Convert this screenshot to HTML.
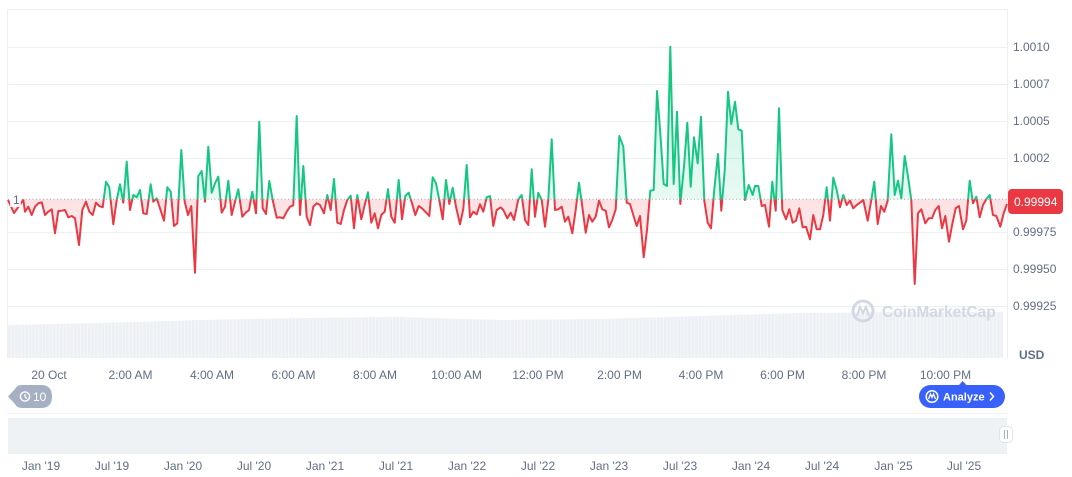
<!DOCTYPE html>
<html><head><meta charset="utf-8"><style>
html,body{margin:0;padding:0;background:#fff;}
svg{display:block;font-family:"Liberation Sans",Arial,sans-serif;}
</style></head><body>
<svg width="1072" height="477" viewBox="0 0 1072 477" xmlns="http://www.w3.org/2000/svg">
<defs>
<clipPath id="ca"><rect x="0" y="0" width="1008" height="199.3"/></clipPath>
<clipPath id="cb"><rect x="0" y="199.3" width="1008" height="170"/></clipPath>
<linearGradient id="gg" gradientUnits="userSpaceOnUse" x1="0" y1="47" x2="0" y2="199">
<stop offset="0" stop-color="#16c784" stop-opacity="0.22"/><stop offset="1" stop-color="#16c784" stop-opacity="0.1"/></linearGradient>
<linearGradient id="rg" gradientUnits="userSpaceOnUse" x1="0" y1="199" x2="0" y2="285">
<stop offset="0" stop-color="#ea3943" stop-opacity="0.15"/><stop offset="1" stop-color="#ea3943" stop-opacity="0.04"/></linearGradient>
<pattern id="bars" x="8" y="0" width="3.47" height="10" patternUnits="userSpaceOnUse"><rect x="2.7" y="0" width="0.77" height="10" fill="#fff" opacity="0.55"/></pattern>
</defs>
<g stroke="#eceff3" stroke-width="1">
<line x1="7" y1="9.5" x2="1008" y2="9.5"/>
<line x1="7.5" y1="9" x2="7.5" y2="358"/>
<line x1="1007.5" y1="9" x2="1007.5" y2="358"/>
<line x1="8" y1="47.5" x2="1007" y2="47.5"/>
<line x1="8" y1="84.5" x2="1007" y2="84.5"/>
<line x1="8" y1="121.5" x2="1007" y2="121.5"/>
<line x1="8" y1="158.5" x2="1007" y2="158.5"/>
<line x1="8" y1="232.5" x2="1007" y2="232.5"/>
<line x1="8" y1="269.5" x2="1007" y2="269.5"/>
<line x1="8" y1="306.5" x2="1007" y2="306.5"/>
</g>
<polygon points="8,325 100,323 200,320 300,318 400,317 500,320 600,319 700,316 800,313 900,312 1003,312 1003,358 8,358" fill="#edf0f4"/>
<polygon points="8,325 100,323 200,320 300,318 400,317 500,320 600,319 700,316 800,313 900,312 1003,312 1003,358 8,358" fill="url(#bars)"/>
<g>
<circle cx="863" cy="311" r="10" fill="none" stroke="#d3d9e2" stroke-width="3"/>
<path d="M857,316 L860,307 L863,313 L866,307 L869,316" fill="none" stroke="#d3d9e2" stroke-width="2.2"/>
<text x="882" y="317" font-size="15.5" font-weight="bold" fill="#d3d9e2">CoinMarketCap</text>
</g>
<g clip-path="url(#ca)"><polygon fill="url(#gg)" points="8,199.3 8,200 14,213 23.3,200 25,211.7 28.3,206.7 31.7,215 35,206.7 38.3,203.3 41.7,202.3 45,215 48.3,211.7 51.7,209.3 55,233.3 58.3,211 61.7,210.7 65,210 68.3,217.3 71.7,216 75,218.3 79,245 82.3,210 86,201.7 89.3,211.7 92.7,215 96,202.7 99.3,206 102.7,207.3 106,181.7 109.3,187.3 113.3,224.3 116.7,200 120,184.3 123.3,202.7 126.7,161.7 130,210 133.3,195 136.7,197.3 140,190 143.3,213.3 146.7,214 150.7,184.3 153.3,201.7 156.7,198.3 160,208.3 164,220.7 167.3,187.3 170.7,191.7 174,226 177.3,223.3 181.3,150 184.7,201.7 188,215 191.3,206 195,272.7 198.3,176 201.7,171 205,201.7 208.3,146.7 211.7,192.7 215,183.3 218.3,176.7 221.7,212.7 225,206.7 228.3,180.7 231.7,215 235,201.7 238.3,189.3 242.3,216.7 245.7,212.7 249,210 252.3,191.7 256,213.3 259.3,121.7 262.7,208.3 266,214 269.3,181 272.7,200 276.7,217.7 280,217.3 283.3,218.3 286.7,211.7 290,206.7 293.3,205.3 296.7,116 300,215 303.3,166 306.7,216.7 310,225 313.3,206.7 316.7,203.3 320,205 324,213.3 327.3,195 330.7,210 334,179 337.3,222.7 340.7,224 344,210 347.3,200 350.7,195.7 354,228.3 357.3,195 361.3,219.3 364.7,205 368,192.3 371.3,222.7 374.7,213.3 378,228.3 381.3,215 384.7,211.7 388,189.3 391.3,216.7 394.7,222.7 398.7,180 402,219.3 405.3,196 408.7,192.7 412,203.3 415.3,215 418.7,206 422,208.3 425.3,211.7 429.3,216 432.7,177.3 436,183.3 439.3,200 442.7,219.3 446,180 449.3,204 452.7,187.7 456,206.7 460,224.3 463.3,209 466.7,165 470,217.3 473.3,211.7 476.7,214.3 480,204.3 483.3,211.7 486.7,197.3 490,196 493.3,226 496.7,210 500.7,207.3 503.3,210 507.3,218.3 510.7,212.7 514,220 518.3,199.3 521.7,195 525,220 528.3,225 531.7,169.3 535,216.7 538.3,192.7 541.7,200 545,226.7 548.3,200 551.7,139.3 555,210 558.3,209.3 561.7,206.7 565,221.7 568.3,216.7 572.3,233.3 575.7,210 579,182.7 582.3,206.7 585.7,232.7 589,215 592.3,221.7 595.7,216.7 599,200.7 602.3,209.3 605.7,210.7 609,227.3 612.3,220 615.7,209.3 619.3,136 623.3,146.7 626.7,202.7 630,204 633.3,215 636.7,226 640,216 643.7,257.3 647,230 650.3,190.7 653.7,190 657,91 660.3,133.3 663.7,184 667,186 670.3,46.7 673.7,184 677,111.7 680.3,204 684,166.7 687.3,122.7 690.7,186.7 694,137.3 697.7,163.3 701,116.7 704.3,200.7 707.7,222.7 711,228.3 714.3,189.3 718,154 721.3,210.7 724.7,170.7 728,91.7 731.3,124 735,101.7 738.3,129.3 741.7,130.7 745,200 748.7,185 752.7,195 755,186 758.3,186 761.7,206 765,205 769,226.7 772.3,181.7 775.7,210.7 779,108.3 782.3,210 786,219.3 789.3,209.3 792.7,222.7 796,220.7 799.3,208.3 802.7,227.3 806,226.7 810,239.3 813.3,215 816.7,229.3 820,229.3 823.3,215 826.7,187.3 830,220.7 833.3,177.7 836.7,190 840,207.3 843.3,195 846.7,205 850,200.7 853.3,208.3 856.7,205 860,202.7 863.3,200 867.7,220.7 871,201.7 874.3,181.7 877.7,224 881,206 884.3,211.7 887.7,200.7 891.3,134.3 894.7,195 898,180.7 901.3,198.3 904.7,156 908,176.7 911.3,200 914.7,284 918,213.3 921.3,209.3 925.3,223.3 928.7,218.3 932,218.3 935.3,210 938.7,206 942,228.3 945.3,216 949,241.7 952.3,224 955.7,208.3 959,206 963,229.3 966.3,220.7 969.7,180.7 973,203.3 976.3,196.7 979.7,217.3 983,205 986.3,199.3 989.7,195 993,215 996.3,216 1000.3,226.7 1003.7,213.3 1007,204 1007,199.3"/></g>
<g clip-path="url(#cb)"><polygon fill="url(#rg)" points="8,199.3 8,200 14,213 23.3,200 25,211.7 28.3,206.7 31.7,215 35,206.7 38.3,203.3 41.7,202.3 45,215 48.3,211.7 51.7,209.3 55,233.3 58.3,211 61.7,210.7 65,210 68.3,217.3 71.7,216 75,218.3 79,245 82.3,210 86,201.7 89.3,211.7 92.7,215 96,202.7 99.3,206 102.7,207.3 106,181.7 109.3,187.3 113.3,224.3 116.7,200 120,184.3 123.3,202.7 126.7,161.7 130,210 133.3,195 136.7,197.3 140,190 143.3,213.3 146.7,214 150.7,184.3 153.3,201.7 156.7,198.3 160,208.3 164,220.7 167.3,187.3 170.7,191.7 174,226 177.3,223.3 181.3,150 184.7,201.7 188,215 191.3,206 195,272.7 198.3,176 201.7,171 205,201.7 208.3,146.7 211.7,192.7 215,183.3 218.3,176.7 221.7,212.7 225,206.7 228.3,180.7 231.7,215 235,201.7 238.3,189.3 242.3,216.7 245.7,212.7 249,210 252.3,191.7 256,213.3 259.3,121.7 262.7,208.3 266,214 269.3,181 272.7,200 276.7,217.7 280,217.3 283.3,218.3 286.7,211.7 290,206.7 293.3,205.3 296.7,116 300,215 303.3,166 306.7,216.7 310,225 313.3,206.7 316.7,203.3 320,205 324,213.3 327.3,195 330.7,210 334,179 337.3,222.7 340.7,224 344,210 347.3,200 350.7,195.7 354,228.3 357.3,195 361.3,219.3 364.7,205 368,192.3 371.3,222.7 374.7,213.3 378,228.3 381.3,215 384.7,211.7 388,189.3 391.3,216.7 394.7,222.7 398.7,180 402,219.3 405.3,196 408.7,192.7 412,203.3 415.3,215 418.7,206 422,208.3 425.3,211.7 429.3,216 432.7,177.3 436,183.3 439.3,200 442.7,219.3 446,180 449.3,204 452.7,187.7 456,206.7 460,224.3 463.3,209 466.7,165 470,217.3 473.3,211.7 476.7,214.3 480,204.3 483.3,211.7 486.7,197.3 490,196 493.3,226 496.7,210 500.7,207.3 503.3,210 507.3,218.3 510.7,212.7 514,220 518.3,199.3 521.7,195 525,220 528.3,225 531.7,169.3 535,216.7 538.3,192.7 541.7,200 545,226.7 548.3,200 551.7,139.3 555,210 558.3,209.3 561.7,206.7 565,221.7 568.3,216.7 572.3,233.3 575.7,210 579,182.7 582.3,206.7 585.7,232.7 589,215 592.3,221.7 595.7,216.7 599,200.7 602.3,209.3 605.7,210.7 609,227.3 612.3,220 615.7,209.3 619.3,136 623.3,146.7 626.7,202.7 630,204 633.3,215 636.7,226 640,216 643.7,257.3 647,230 650.3,190.7 653.7,190 657,91 660.3,133.3 663.7,184 667,186 670.3,46.7 673.7,184 677,111.7 680.3,204 684,166.7 687.3,122.7 690.7,186.7 694,137.3 697.7,163.3 701,116.7 704.3,200.7 707.7,222.7 711,228.3 714.3,189.3 718,154 721.3,210.7 724.7,170.7 728,91.7 731.3,124 735,101.7 738.3,129.3 741.7,130.7 745,200 748.7,185 752.7,195 755,186 758.3,186 761.7,206 765,205 769,226.7 772.3,181.7 775.7,210.7 779,108.3 782.3,210 786,219.3 789.3,209.3 792.7,222.7 796,220.7 799.3,208.3 802.7,227.3 806,226.7 810,239.3 813.3,215 816.7,229.3 820,229.3 823.3,215 826.7,187.3 830,220.7 833.3,177.7 836.7,190 840,207.3 843.3,195 846.7,205 850,200.7 853.3,208.3 856.7,205 860,202.7 863.3,200 867.7,220.7 871,201.7 874.3,181.7 877.7,224 881,206 884.3,211.7 887.7,200.7 891.3,134.3 894.7,195 898,180.7 901.3,198.3 904.7,156 908,176.7 911.3,200 914.7,284 918,213.3 921.3,209.3 925.3,223.3 928.7,218.3 932,218.3 935.3,210 938.7,206 942,228.3 945.3,216 949,241.7 952.3,224 955.7,208.3 959,206 963,229.3 966.3,220.7 969.7,180.7 973,203.3 976.3,196.7 979.7,217.3 983,205 986.3,199.3 989.7,195 993,215 996.3,216 1000.3,226.7 1003.7,213.3 1007,204 1007,199.3"/></g>
<line x1="8" y1="199.3" x2="1007" y2="199.3" stroke="#a0a8b5" stroke-width="1" stroke-dasharray="1 2.5"/>
<g clip-path="url(#ca)"><polyline fill="none" stroke="#16c784" stroke-width="2" stroke-linejoin="round" points="8,200 14,213 23.3,200 25,211.7 28.3,206.7 31.7,215 35,206.7 38.3,203.3 41.7,202.3 45,215 48.3,211.7 51.7,209.3 55,233.3 58.3,211 61.7,210.7 65,210 68.3,217.3 71.7,216 75,218.3 79,245 82.3,210 86,201.7 89.3,211.7 92.7,215 96,202.7 99.3,206 102.7,207.3 106,181.7 109.3,187.3 113.3,224.3 116.7,200 120,184.3 123.3,202.7 126.7,161.7 130,210 133.3,195 136.7,197.3 140,190 143.3,213.3 146.7,214 150.7,184.3 153.3,201.7 156.7,198.3 160,208.3 164,220.7 167.3,187.3 170.7,191.7 174,226 177.3,223.3 181.3,150 184.7,201.7 188,215 191.3,206 195,272.7 198.3,176 201.7,171 205,201.7 208.3,146.7 211.7,192.7 215,183.3 218.3,176.7 221.7,212.7 225,206.7 228.3,180.7 231.7,215 235,201.7 238.3,189.3 242.3,216.7 245.7,212.7 249,210 252.3,191.7 256,213.3 259.3,121.7 262.7,208.3 266,214 269.3,181 272.7,200 276.7,217.7 280,217.3 283.3,218.3 286.7,211.7 290,206.7 293.3,205.3 296.7,116 300,215 303.3,166 306.7,216.7 310,225 313.3,206.7 316.7,203.3 320,205 324,213.3 327.3,195 330.7,210 334,179 337.3,222.7 340.7,224 344,210 347.3,200 350.7,195.7 354,228.3 357.3,195 361.3,219.3 364.7,205 368,192.3 371.3,222.7 374.7,213.3 378,228.3 381.3,215 384.7,211.7 388,189.3 391.3,216.7 394.7,222.7 398.7,180 402,219.3 405.3,196 408.7,192.7 412,203.3 415.3,215 418.7,206 422,208.3 425.3,211.7 429.3,216 432.7,177.3 436,183.3 439.3,200 442.7,219.3 446,180 449.3,204 452.7,187.7 456,206.7 460,224.3 463.3,209 466.7,165 470,217.3 473.3,211.7 476.7,214.3 480,204.3 483.3,211.7 486.7,197.3 490,196 493.3,226 496.7,210 500.7,207.3 503.3,210 507.3,218.3 510.7,212.7 514,220 518.3,199.3 521.7,195 525,220 528.3,225 531.7,169.3 535,216.7 538.3,192.7 541.7,200 545,226.7 548.3,200 551.7,139.3 555,210 558.3,209.3 561.7,206.7 565,221.7 568.3,216.7 572.3,233.3 575.7,210 579,182.7 582.3,206.7 585.7,232.7 589,215 592.3,221.7 595.7,216.7 599,200.7 602.3,209.3 605.7,210.7 609,227.3 612.3,220 615.7,209.3 619.3,136 623.3,146.7 626.7,202.7 630,204 633.3,215 636.7,226 640,216 643.7,257.3 647,230 650.3,190.7 653.7,190 657,91 660.3,133.3 663.7,184 667,186 670.3,46.7 673.7,184 677,111.7 680.3,204 684,166.7 687.3,122.7 690.7,186.7 694,137.3 697.7,163.3 701,116.7 704.3,200.7 707.7,222.7 711,228.3 714.3,189.3 718,154 721.3,210.7 724.7,170.7 728,91.7 731.3,124 735,101.7 738.3,129.3 741.7,130.7 745,200 748.7,185 752.7,195 755,186 758.3,186 761.7,206 765,205 769,226.7 772.3,181.7 775.7,210.7 779,108.3 782.3,210 786,219.3 789.3,209.3 792.7,222.7 796,220.7 799.3,208.3 802.7,227.3 806,226.7 810,239.3 813.3,215 816.7,229.3 820,229.3 823.3,215 826.7,187.3 830,220.7 833.3,177.7 836.7,190 840,207.3 843.3,195 846.7,205 850,200.7 853.3,208.3 856.7,205 860,202.7 863.3,200 867.7,220.7 871,201.7 874.3,181.7 877.7,224 881,206 884.3,211.7 887.7,200.7 891.3,134.3 894.7,195 898,180.7 901.3,198.3 904.7,156 908,176.7 911.3,200 914.7,284 918,213.3 921.3,209.3 925.3,223.3 928.7,218.3 932,218.3 935.3,210 938.7,206 942,228.3 945.3,216 949,241.7 952.3,224 955.7,208.3 959,206 963,229.3 966.3,220.7 969.7,180.7 973,203.3 976.3,196.7 979.7,217.3 983,205 986.3,199.3 989.7,195 993,215 996.3,216 1000.3,226.7 1003.7,213.3 1007,204"/></g>
<g clip-path="url(#cb)"><polyline fill="none" stroke="#ea3943" stroke-width="2" stroke-linejoin="round" points="8,200 14,213 23.3,200 25,211.7 28.3,206.7 31.7,215 35,206.7 38.3,203.3 41.7,202.3 45,215 48.3,211.7 51.7,209.3 55,233.3 58.3,211 61.7,210.7 65,210 68.3,217.3 71.7,216 75,218.3 79,245 82.3,210 86,201.7 89.3,211.7 92.7,215 96,202.7 99.3,206 102.7,207.3 106,181.7 109.3,187.3 113.3,224.3 116.7,200 120,184.3 123.3,202.7 126.7,161.7 130,210 133.3,195 136.7,197.3 140,190 143.3,213.3 146.7,214 150.7,184.3 153.3,201.7 156.7,198.3 160,208.3 164,220.7 167.3,187.3 170.7,191.7 174,226 177.3,223.3 181.3,150 184.7,201.7 188,215 191.3,206 195,272.7 198.3,176 201.7,171 205,201.7 208.3,146.7 211.7,192.7 215,183.3 218.3,176.7 221.7,212.7 225,206.7 228.3,180.7 231.7,215 235,201.7 238.3,189.3 242.3,216.7 245.7,212.7 249,210 252.3,191.7 256,213.3 259.3,121.7 262.7,208.3 266,214 269.3,181 272.7,200 276.7,217.7 280,217.3 283.3,218.3 286.7,211.7 290,206.7 293.3,205.3 296.7,116 300,215 303.3,166 306.7,216.7 310,225 313.3,206.7 316.7,203.3 320,205 324,213.3 327.3,195 330.7,210 334,179 337.3,222.7 340.7,224 344,210 347.3,200 350.7,195.7 354,228.3 357.3,195 361.3,219.3 364.7,205 368,192.3 371.3,222.7 374.7,213.3 378,228.3 381.3,215 384.7,211.7 388,189.3 391.3,216.7 394.7,222.7 398.7,180 402,219.3 405.3,196 408.7,192.7 412,203.3 415.3,215 418.7,206 422,208.3 425.3,211.7 429.3,216 432.7,177.3 436,183.3 439.3,200 442.7,219.3 446,180 449.3,204 452.7,187.7 456,206.7 460,224.3 463.3,209 466.7,165 470,217.3 473.3,211.7 476.7,214.3 480,204.3 483.3,211.7 486.7,197.3 490,196 493.3,226 496.7,210 500.7,207.3 503.3,210 507.3,218.3 510.7,212.7 514,220 518.3,199.3 521.7,195 525,220 528.3,225 531.7,169.3 535,216.7 538.3,192.7 541.7,200 545,226.7 548.3,200 551.7,139.3 555,210 558.3,209.3 561.7,206.7 565,221.7 568.3,216.7 572.3,233.3 575.7,210 579,182.7 582.3,206.7 585.7,232.7 589,215 592.3,221.7 595.7,216.7 599,200.7 602.3,209.3 605.7,210.7 609,227.3 612.3,220 615.7,209.3 619.3,136 623.3,146.7 626.7,202.7 630,204 633.3,215 636.7,226 640,216 643.7,257.3 647,230 650.3,190.7 653.7,190 657,91 660.3,133.3 663.7,184 667,186 670.3,46.7 673.7,184 677,111.7 680.3,204 684,166.7 687.3,122.7 690.7,186.7 694,137.3 697.7,163.3 701,116.7 704.3,200.7 707.7,222.7 711,228.3 714.3,189.3 718,154 721.3,210.7 724.7,170.7 728,91.7 731.3,124 735,101.7 738.3,129.3 741.7,130.7 745,200 748.7,185 752.7,195 755,186 758.3,186 761.7,206 765,205 769,226.7 772.3,181.7 775.7,210.7 779,108.3 782.3,210 786,219.3 789.3,209.3 792.7,222.7 796,220.7 799.3,208.3 802.7,227.3 806,226.7 810,239.3 813.3,215 816.7,229.3 820,229.3 823.3,215 826.7,187.3 830,220.7 833.3,177.7 836.7,190 840,207.3 843.3,195 846.7,205 850,200.7 853.3,208.3 856.7,205 860,202.7 863.3,200 867.7,220.7 871,201.7 874.3,181.7 877.7,224 881,206 884.3,211.7 887.7,200.7 891.3,134.3 894.7,195 898,180.7 901.3,198.3 904.7,156 908,176.7 911.3,200 914.7,284 918,213.3 921.3,209.3 925.3,223.3 928.7,218.3 932,218.3 935.3,210 938.7,206 942,228.3 945.3,216 949,241.7 952.3,224 955.7,208.3 959,206 963,229.3 966.3,220.7 969.7,180.7 973,203.3 976.3,196.7 979.7,217.3 983,205 986.3,199.3 989.7,195 993,215 996.3,216 1000.3,226.7 1003.7,213.3 1007,204"/></g>
<rect x="10" y="192" width="11" height="15" fill="#fff" opacity="0.85"/>
<text x="13" y="204" font-size="12" fill="#616e85">1</text>
<g font-size="12" fill="#616e85">
<text x="1013" y="51">1.0010</text>
<text x="1013" y="88">1.0007</text>
<text x="1013" y="125">1.0005</text>
<text x="1013" y="162">1.0002</text>
<text x="1013" y="236">0.99975</text>
<text x="1013" y="273">0.99950</text>
<text x="1013" y="310">0.99925</text>
<text x="1019" y="359" font-weight="bold">USD</text>
</g>
<rect x="1008" y="189" width="55" height="25" rx="4" fill="#ea3943"/>
<text x="1014" y="206" font-size="12" fill="#fff">0.99994</text>
<g font-size="12" fill="#616e85" text-anchor="middle">
<text x="49" y="379">20 Oct</text>
<text x="130.5" y="379">2:00 AM</text>
<text x="212" y="379">4:00 AM</text>
<text x="293.5" y="379">6:00 AM</text>
<text x="375" y="379">8:00 AM</text>
<text x="456.5" y="379">10:00 AM</text>
<text x="538" y="379">12:00 PM</text>
<text x="619.5" y="379">2:00 PM</text>
<text x="701" y="379">4:00 PM</text>
<text x="782.5" y="379">6:00 PM</text>
<text x="864" y="379">8:00 PM</text>
<text x="945.5" y="379">10:00 PM</text>
</g>
<path d="M8,396.5 L15,389 Q17,385 22,385 L41,385 Q52,385 52,396.5 Q52,408 41,408 L22,408 Q17,408 15,404 Z" fill="#a6b0c3"/>
<circle cx="25" cy="396.5" r="4.6" fill="none" stroke="#fff" stroke-width="1.4"/>
<path d="M25,394 L25,397 L27,398.5" fill="none" stroke="#fff" stroke-width="1.2"/>
<text x="33" y="401" font-size="12" fill="#fff">10</text>
<path d="M959,385 L962.7,381 L966.4,385 Z" fill="#3861fb"/>
<rect x="919" y="385" width="86" height="23" rx="11.5" fill="#3861fb"/>
<circle cx="932" cy="396.5" r="5.8" fill="none" stroke="#fff" stroke-width="1.5"/>
<path d="M928.5,399 L930.5,394 L932,397.5 L933.5,394 L935.5,399" fill="none" stroke="#fff" stroke-width="1.3"/>
<text x="943" y="400.5" font-size="11" font-weight="bold" fill="#fff">Analyze</text>
<path d="M990,392.5 L993.5,396.5 L990,400.5" fill="none" stroke="#fff" stroke-width="1.5"/>
<line x1="7" y1="413.5" x2="1008" y2="413.5" stroke="#f1f3f6" stroke-width="1"/>
<rect x="8" y="418" width="999" height="36" fill="#eff2f5"/>
<rect x="999.5" y="426.5" width="13" height="16" rx="4" fill="#fff" stroke="#dfe3ea" stroke-width="1"/>
<line x1="1004.5" y1="430" x2="1004.5" y2="439" stroke="#a6b0c3" stroke-width="1"/>
<line x1="1007.5" y1="430" x2="1007.5" y2="439" stroke="#a6b0c3" stroke-width="1"/>
<g font-size="12" fill="#616e85" text-anchor="middle">
<text x="41" y="470">Jan '19</text>
<text x="112" y="470">Jul '19</text>
<text x="183" y="470">Jan '20</text>
<text x="254" y="470">Jul '20</text>
<text x="325" y="470">Jan '21</text>
<text x="396" y="470">Jul '21</text>
<text x="467" y="470">Jan '22</text>
<text x="538" y="470">Jul '22</text>
<text x="609" y="470">Jan '23</text>
<text x="680" y="470">Jul '23</text>
<text x="751" y="470">Jan '24</text>
<text x="822" y="470">Jul '24</text>
<text x="893.5" y="470">Jan '25</text>
<text x="964" y="470">Jul '25</text>
</g>
</svg>
</body></html>
